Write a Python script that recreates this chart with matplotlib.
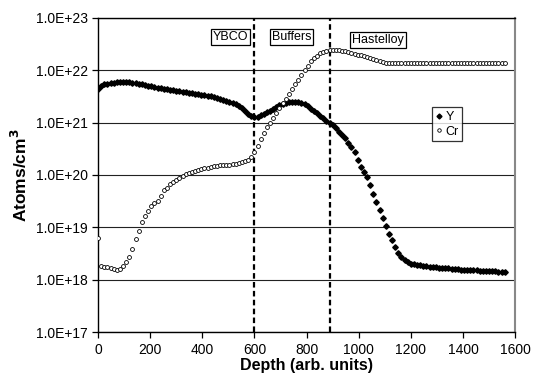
import numpy as np
import matplotlib.pyplot as plt

plt.rcParams['font.family'] = ['Liberation Sans', 'DejaVu Sans']

# depth grid (arb. units), one point every 12 units
depth = np.arange(0, 1561, 12)

# log10 of concentration (atoms/cm^3)
y_log = [21.64, 21.70, 21.73, 21.745, 21.755, 21.765, 21.77, 21.775, 21.775, 21.775,
         21.77, 21.765, 21.755, 21.745, 21.73, 21.72, 21.705, 21.69, 21.68, 21.67,
         21.655, 21.645, 21.635, 21.625, 21.615, 21.605, 21.595, 21.585, 21.575, 21.565,
         21.56, 21.55, 21.54, 21.53, 21.52, 21.51, 21.50, 21.49, 21.475, 21.46,
         21.44, 21.42, 21.40, 21.38, 21.355, 21.32, 21.28, 21.23, 21.17, 21.13,
         21.11, 21.11, 21.14, 21.17, 21.20, 21.22, 21.26, 21.30, 21.33, 21.36,
         21.38, 21.40, 21.40, 21.40, 21.40, 21.38, 21.35, 21.31, 21.26, 21.22,
         21.18, 21.13, 21.08, 21.04, 21.00, 20.95, 20.89, 20.83, 20.77, 20.71,
         20.62, 20.54, 20.44, 20.28, 20.16, 20.06, 19.97, 19.81, 19.64, 19.49,
         19.34, 19.18, 19.03, 18.88, 18.75, 18.62, 18.52, 18.44, 18.38, 18.34,
         18.31, 18.30, 18.29, 18.28, 18.27, 18.26, 18.25, 18.24, 18.235, 18.23,
         18.225, 18.22, 18.215, 18.21, 18.205, 18.20, 18.195, 18.19, 18.19, 18.185,
         18.18, 18.18, 18.175, 18.17, 18.17, 18.165, 18.16, 18.16, 18.155, 18.15,
         18.15]

cr_log = [18.80, 18.27, 18.25, 18.24, 18.22, 18.20, 18.19, 18.20, 18.26, 18.34,
          18.44, 18.58, 18.77, 18.94, 19.10, 19.22, 19.32, 19.40, 19.46, 19.51,
          19.60, 19.71, 19.76, 19.82, 19.87, 19.91, 19.95, 19.98, 20.01, 20.03,
          20.05, 20.07, 20.09, 20.11, 20.13, 20.14, 20.16, 20.17, 20.18, 20.19,
          20.19, 20.20, 20.20, 20.21, 20.21, 20.22, 20.24, 20.26, 20.29, 20.34,
          20.44, 20.56, 20.69, 20.80, 20.91, 21.00, 21.09, 21.19, 21.28, 21.37,
          21.46, 21.55, 21.64, 21.73, 21.82, 21.91, 22.00, 22.09, 22.17, 22.23,
          22.28, 22.32, 22.35, 22.37, 22.385, 22.39, 22.39, 22.385, 22.375, 22.36,
          22.345, 22.33, 22.315, 22.30, 22.285, 22.27, 22.25, 22.23, 22.21, 22.19,
          22.17, 22.155, 22.14, 22.135, 22.13, 22.13, 22.13, 22.13, 22.13, 22.13,
          22.13, 22.13, 22.13, 22.13, 22.13, 22.13, 22.13, 22.13, 22.13, 22.13,
          22.13, 22.13, 22.13, 22.13, 22.13, 22.13, 22.13, 22.13, 22.13, 22.13,
          22.13, 22.13, 22.13, 22.13, 22.13, 22.13, 22.13, 22.13, 22.13, 22.13,
          22.13]

boundaries = [600, 890]
regions = ['YBCO', 'Buffers', 'Hastelloy']
region_x = [508, 742, 1074]

fig = plt.figure(figsize=(5.36, 3.8), dpi=100)
ax = fig.add_axes([0.183, 0.126, 0.778, 0.827])

ax.plot(depth, 10.0**np.array(y_log), linestyle='none', marker='D', markersize=2.8,
        color='black', label='Y', zorder=3)
ax.plot(depth, 10.0**np.array(cr_log), linestyle='none', marker='o', markersize=2.8,
        markerfacecolor='white', markeredgecolor='black', markeredgewidth=0.6,
        label='Cr', zorder=3)

for b in boundaries:
    ax.axvline(b, color='black', linestyle=(0, (2.5, 1.5)), linewidth=1.6, zorder=2)

for name, xr in zip(regions, region_x):
    ax.text(xr, 0.94 if name != 'Hastelloy' else 0.93, name, fontsize=9,
            ha='center', va='center', transform=ax.get_xaxis_transform(),
            bbox=dict(boxstyle='square,pad=0.15', facecolor='white', edgecolor='black', linewidth=0.9),
            zorder=4)

ax.set_yscale('log')
ax.set_ylim(1e17, 1e23)
ax.set_xlim(0, 1600)
ax.set_xticks(np.arange(0, 1601, 200))
ax.set_yticks([10.0**k for k in range(17, 24)])
ax.set_yticklabels(['1.0E+%d' % k for k in range(17, 24)])
ax.minorticks_off()
ax.yaxis.grid(True, color='#222222', linewidth=0.8)
ax.set_axisbelow(True)
ax.tick_params(labelsize=10, direction='out', length=4, width=0.9)

for s in ['left', 'bottom', 'top']:
    ax.spines[s].set_linewidth(1.0)
    ax.spines[s].set_color('black')
ax.spines['right'].set_color('#888888')
ax.spines['right'].set_linewidth(1.5)

ax.set_xlabel('Depth (arb. units)', fontsize=11.5, fontweight='bold', labelpad=1)
ax.set_ylabel('Atoms/cm$^\\mathbf{3}$', fontsize=12.5, fontweight='bold', labelpad=4)

leg = ax.legend(loc='upper left', bbox_to_anchor=(0.80, 0.715), fontsize=9,
                frameon=True, fancybox=False, handlelength=0.5, handletextpad=0.3,
                borderpad=0.3, labelspacing=0.2, borderaxespad=0, markerscale=0.9)
leg.get_frame().set_edgecolor('black')
leg.get_frame().set_linewidth(0.9)

fig.savefig('out.png', dpi=100)
